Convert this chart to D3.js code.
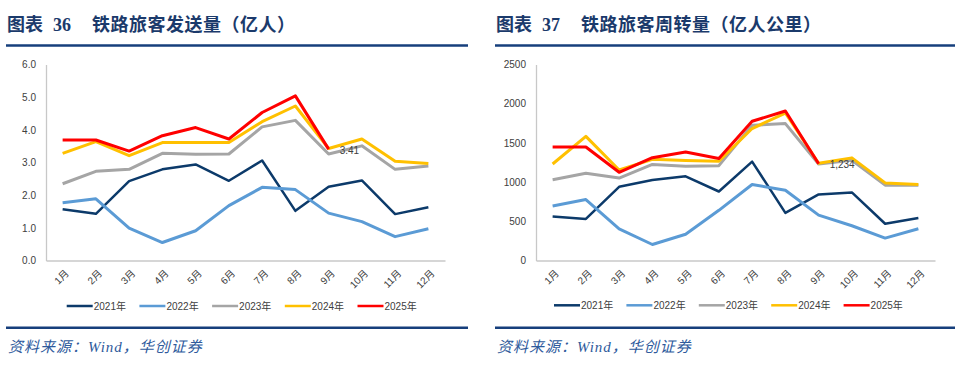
<!DOCTYPE html>
<html>
<head>
<meta charset="utf-8">
<script src="https://cdn.jsdelivr.net/npm/d3@7/dist/d3.min.js"></script>
<style>
  body { margin: 0; background: #fff; }
  svg { display: block; }
</style>
</head>
<body>
<svg id="chart" width="960" height="377"></svg>
<script>
// months on the x axis
const months = ["1月","2月","3月","4月","5月","6月","7月","8月","9月","10月","11月","12月"];
const years = ["2021年","2022年","2023年","2024年","2025年"];
const yearColors = ["#0c3a6a","#5b9bd5","#a5a5a5","#ffc000","#ff0000"];

// 铁路旅客发送量（亿人）
const sent2021 = [1.57,1.43,2.43,2.79,2.94,2.44,3.06,1.52,2.26,2.45,1.42,1.63];
const sent2022 = [1.77,1.89,0.99,0.55,0.91,1.68,2.24,2.17,1.45,1.19,0.73,0.97];
const sent2023 = [2.35,2.73,2.79,3.28,3.25,3.26,4.09,4.29,3.26,3.51,2.79,2.89];
const sent2024 = [3.28,3.64,3.21,3.61,3.61,3.61,4.25,4.73,3.43,3.72,3.04,2.97];
const sent2025 = [3.69,3.69,3.35,3.82,4.07,3.72,4.53,5.04,3.41];
const sentTicks = [0,1,2,3,4,5,6];

// 铁路旅客周转量（亿人公里）
const turn2021 = [560,530,940,1027,1074,880,1262,608,843,868,469,541];
const turn2022 = [696,777,403,204,335,640,970,897,579,443,286,405];
const turn2023 = [1031,1112,1052,1226,1201,1210,1725,1746,1230,1279,961,961];
const turn2024 = [1231,1583,1154,1290,1277,1266,1683,1881,1240,1309,990,970];
const turn2025 = [1447,1447,1125,1311,1384,1300,1776,1907,1234];
const turnTicks = [0,500,1000,1500,2000,2500];

const svg = d3.select("#chart");
const navy = "#163f7c";
const tickFont = "'Liberation Sans', Arial, 'Noto Sans CJK SC', sans-serif";

function drawPanel(opt) {
    const g = svg.append("g");

    // Title
    const title = g.append("text")
        .attr("y", 31)
        .style("font-size", "18px")
        .style("font-weight", "bold")
        .style("fill", "#1b3a6b")
        .style("font-family", "'Liberation Serif', 'Noto Sans CJK SC', serif");
    title.append("tspan").attr("x", opt.left).text("图表");
    title.append("tspan").attr("x", opt.left + 46).text(opt.num);
    title.append("tspan").attr("x", opt.left + 85)
        .style("letter-spacing", "0.5px")
        .text(opt.title);

    // rules
    g.append("line")
        .attr("x1", opt.left - 1).attr("x2", opt.ruleEnd)
        .attr("y1", 45.5).attr("y2", 45.5)
        .style("stroke", navy).style("stroke-width", 2.5);
    g.append("line")
        .attr("x1", opt.left - 1).attr("x2", opt.ruleEnd)
        .attr("y1", 327.8).attr("y2", 327.8)
        .style("stroke", navy).style("stroke-width", 2.5);

    // Source
    g.append("text")
        .attr("x", opt.left + 1)
        .attr("y", 352)
        .text("资料来源：Wind，华创证券")
        .style("font-size", "15px")
        .style("letter-spacing", "1px")
        .style("font-style", "italic")
        .style("fill", "#2e5a9c")
        .style("font-family", "'Liberation Serif', 'Noto Sans CJK SC', serif");

    // Scales
    let x = d3.scalePoint()
        .domain(months)
        .range([opt.axisX, opt.axisX + 399])
        .padding(0.5);
    let y = d3.scaleLinear()
        .domain(d3.extent(opt.ticks))
        .range([260.5, 64.5]);

    // Axes
    const yAxis = g.append("g")
        .attr("transform", "translate(" + opt.axisX + ",0)")
        .call(d3.axisLeft(y).tickValues(opt.ticks).tickFormat(opt.fmt).tickSize(0).tickPadding(10));
    const xAxis = g.append("g")
        .attr("transform", "translate(0,260.5)")
        .call(d3.axisBottom(x).tickSize(0).tickPadding(0));

    [yAxis, xAxis].forEach(a => {
        a.select(".domain").style("stroke", "#c8c8c8").style("stroke-width", 1.3);
        a.selectAll("text")
            .style("font-size", "10px")
            .style("fill", "#404040")
            .style("font-family", tickFont);
    });
    xAxis.selectAll(".tick text")
        .attr("text-anchor", "end")
        .attr("dy", "0.35em")
        .attr("transform", "translate(4,11) rotate(-45)");

    // Lines
    const line = d3.line()
        .x((d, i) => x(months[i]))
        .y(d => y(d));
    g.append("g")
        .selectAll("path")
        .data(opt.series)
        .join("path")
            .attr("d", d => line(d))
            .style("fill", "none")
            .style("stroke", (d, i) => yearColors[i])
            .style("stroke-width", (d, i) => i == 0 ? 2.5 : 3)
            .style("stroke-linejoin", "round");

    // Data label on latest point
    const last = opt.series[4];
    const li = last.length - 1;
    g.append("text")
        .attr("x", x(months[li]) + 11)
        .attr("y", y(last[li]) + 1)
        .attr("dy", "0.35em")
        .text(opt.labelFmt(last[li]))
        .style("font-size", "10px")
        .style("fill", "#404040")
        .style("font-family", tickFont);

    // Legend
    const legend = g.append("g")
        .selectAll("g")
        .data(years)
        .join("g")
            .attr("transform", (d, i) => "translate(" + (opt.legendX + i * opt.legendStep) + "," + opt.legendY + ")");
    legend.append("line")
        .attr("x1", 0).attr("x2", 26)
        .style("stroke", (d, i) => yearColors[i])
        .style("stroke-width", 2.5);
    legend.append("text")
        .attr("x", 27)
        .attr("dy", "0.35em")
        .text(d => d)
        .style("font-size", "10px")
        .style("fill", "#404040")
        .style("font-family", tickFont);
}

drawPanel({
    left: 7, ruleEnd: 468, axisX: 46,
    num: "36", title: "铁路旅客发送量（亿人）",
    ticks: sentTicks, fmt: d3.format(".1f"), labelFmt: d3.format(".2f"),
    series: [sent2021, sent2022, sent2023, sent2024, sent2025],
    legendX: 66.7, legendStep: 72.7, legendY: 306
});
drawPanel({
    left: 496, ruleEnd: 955, axisX: 536,
    num: "37", title: "铁路旅客周转量（亿人公里）",
    ticks: turnTicks, fmt: d3.format("d"), labelFmt: d3.format(",d"),
    series: [turn2021, turn2022, turn2023, turn2024, turn2025],
    legendX: 554, legendStep: 72.4, legendY: 305.3
});
</script>
</body>
</html>
